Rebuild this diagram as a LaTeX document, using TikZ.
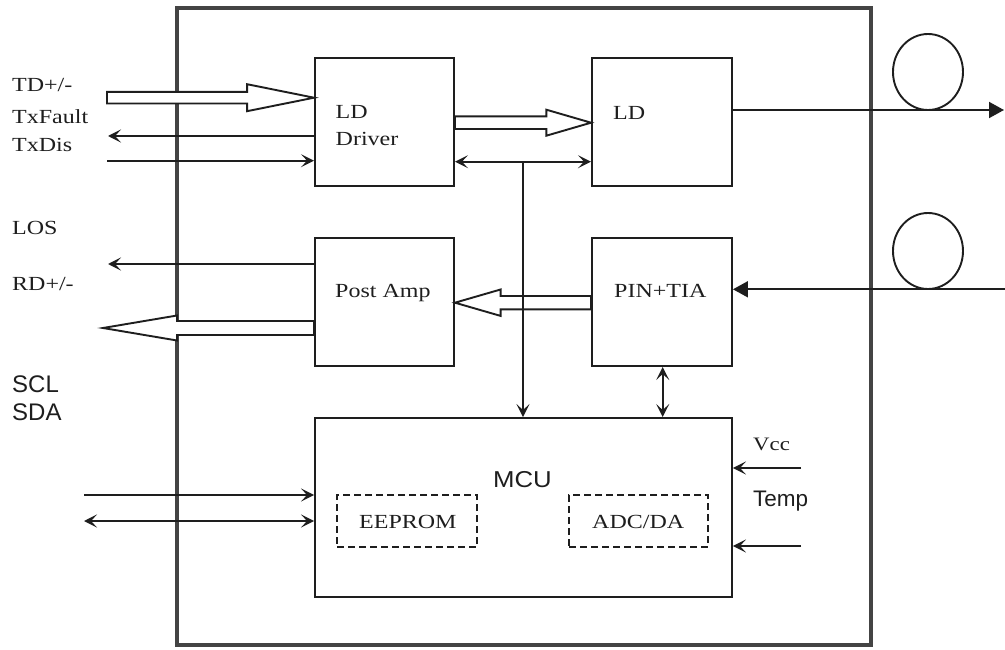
\documentclass[tikz,border=0pt]{standalone}
\usepackage{fontspec}
\newfontfamily\wserif[FakeStretch=1.2]{Liberation Serif}
\newfontfamily\asans{Liberation Sans}
\newfontfamily\wsans[FakeStretch=1.12]{Liberation Sans}
\usetikzlibrary{arrows.meta,calc,shapes.geometric}
\definecolor{ln}{HTML}{1E1E1E}
\definecolor{frm}{HTML}{444444}
\newcommand\hollowarrow[5]{%
  \coordinate (ha-b) at ($(#2)!#5!(#1)$);
  \draw[hollowarr] ($(#1)!#3!90:(#2)$) -- ($(ha-b)!#3!90:(#2)$) -- ($(ha-b)!#4!90:(#2)$) -- (#2)
    -- ($(ha-b)!#4!-90:(#2)$) -- ($(ha-b)!#3!-90:(#2)$) -- ($(#1)!#3!-90:(#2)$) -- cycle;
}
\begin{document}
\begin{tikzpicture}[x=1pt,y=-1pt,
  box/.style={draw=ln, line width=1.9pt, inner sep=0pt, rectangle},
  dbox/.style={draw=ln, line width=1.7pt, dash pattern=on 7pt off 4pt, inner sep=0pt, rectangle},
  hollowarr/.style={draw=ln, line width=1.9pt, fill=white, line join=miter},
  tipb/.tip={Stealth[length=13pt,width=13pt,inset=6pt]},
  arr/.style={draw=ln, line width=1.9pt, -tipb},
  arrtwo/.style={draw=ln, line width=1.9pt, tipb-tipb},
  farr/.style={draw=ln, line width=1.9pt, -{Triangle[length=15pt,width=16pt]}},
  fiber/.style={draw=ln, line width=1.9pt, ellipse, minimum width=70pt, minimum height=76pt, inner sep=0pt},
  lbl/.style={inner sep=0pt, anchor=base west, text=ln, font=\wserif\fontsize{20}{24}\selectfont},
  slbl/.style={inner sep=0pt, anchor=base west, text=ln, font=\asans\fontsize{24}{28}\selectfont}
]
\useasboundingbox (0,0) rectangle (1005,650);
% outer frame
\draw[frm, line width=4pt] (177,8) rectangle (871,645);

% blocks
\node[box, minimum width=139pt, minimum height=128pt] (drv) at (384.5,122) {};
\node[box, minimum width=140pt, minimum height=128pt] (ld)  at (662,122) {};
\node[box, minimum width=139pt, minimum height=128pt] (pa)  at (384.5,302) {};
\node[box, minimum width=140pt, minimum height=128pt] (pin) at (662,302) {};
\node[box, minimum width=417pt, minimum height=179pt] (mcu) at (523.5,507.5) {};
\node[dbox, minimum width=140pt, minimum height=52pt] (eep) at (407,521) {};
\node[dbox, minimum width=139pt, minimum height=52pt] (adc) at (638.5,521) {};

% fibers
\node[fiber] (c1) at (928,72) {};
\node[fiber] (c2) at (928,251) {};

% labels in blocks
\node[lbl] (tdrv1) at (335.5,118.3) {LD};
\node[lbl] (tdrv2) at (335.5,145.7) {Driver};
\node[lbl] (tld) at (613,120) {LD};
\node[lbl] (tpa) at (335,298) {Post Amp};
\node[lbl] (tpin) at (614,298) {PIN+TIA};
\node[inner sep=0pt, anchor=base, text=ln, font=\wsans\fontsize{23}{27}\selectfont] (tmcu) at (522.5,487.3) {MCU};
\node[lbl] (teep) at (359,528.3) {EEPROM};
\node[lbl] (tadc) at (592,528.3) {ADC/DA};
\node[lbl, font=\wserif\fontsize{19}{23}\selectfont] (tvcc) at (753,450) {Vcc};
\node[slbl, font=\asans\fontsize{22.5}{26}\selectfont] (ttemp) at (753,506) {Temp};

% left labels
\node[lbl] (ltd) at (12,91.7) {TD+/-};
\node[lbl] (ltxf) at (12,123.3) {TxFault};
\node[lbl] (ltxd) at (12,151.7) {TxDis};
\node[lbl] (llos) at (12,235) {LOS};
\node[lbl] (lrd) at (12,290.7) {RD+/-};
\node[slbl] (lscl) at (12,392.3) {SCL};
\node[slbl] (lsda) at (12,420) {SDA};

% free ends
\coordinate (td) at (107,97.7);
\coordinate (txf) at (108,136);
\coordinate (txd) at (107,160.7);
\coordinate (los) at (108,264);
\coordinate (rd) at (103,328);
\coordinate (scl) at (84,495);
\coordinate (sda) at (84,521);
\coordinate (vcc) at (801,468);
\coordinate (tmp) at (801,546);
\coordinate (fout) at (1004,110);
\coordinate (fin) at (1005,289.3);
\coordinate (bus) at (523,161.7);
\coordinate (hdl) at (0,122.7);
\coordinate (hpa) at (0,302.7);
\coordinate (vb) at (662.7,0);

% hollow arrows
\hollowarrow{td}{drv.west |- td}{5.8pt}{13.5pt}{67pt}
\hollowarrow{drv.east |- hdl}{ld.west |- hdl}{6.3pt}{13pt}{44.7pt}
\hollowarrow{pin.west |- hpa}{pa.east |- hpa}{6.7pt}{13.2pt}{45.6pt}
\hollowarrow{pa.west |- rd}{rd}{7pt}{12.5pt}{74pt}

% thin arrows
\draw[arr] (drv.west |- txf) -- (txf);
\draw[arr] (txd) -- (drv.west |- txd);
\draw[arrtwo] (drv.east |- bus) -- (ld.west |- bus);
\draw[arr] (bus) -- (mcu.north -| bus);
\draw[arr] (pa.west |- los) -- (los);
\draw[arrtwo] (pin.south -| vb) -- (mcu.north -| vb);
\draw[arr] (scl) -- (mcu.west |- scl);
\draw[arrtwo] (sda) -- (mcu.west |- sda);
\draw[arr] (vcc) -- (mcu.east |- vcc);
\draw[arr] (tmp) -- (mcu.east |- tmp);

% fiber lines
\draw[farr] (ld.east |- fout) -- (fout);
\draw[farr] (fin) -- (pin.east |- fin);
\end{tikzpicture}
\end{document}
